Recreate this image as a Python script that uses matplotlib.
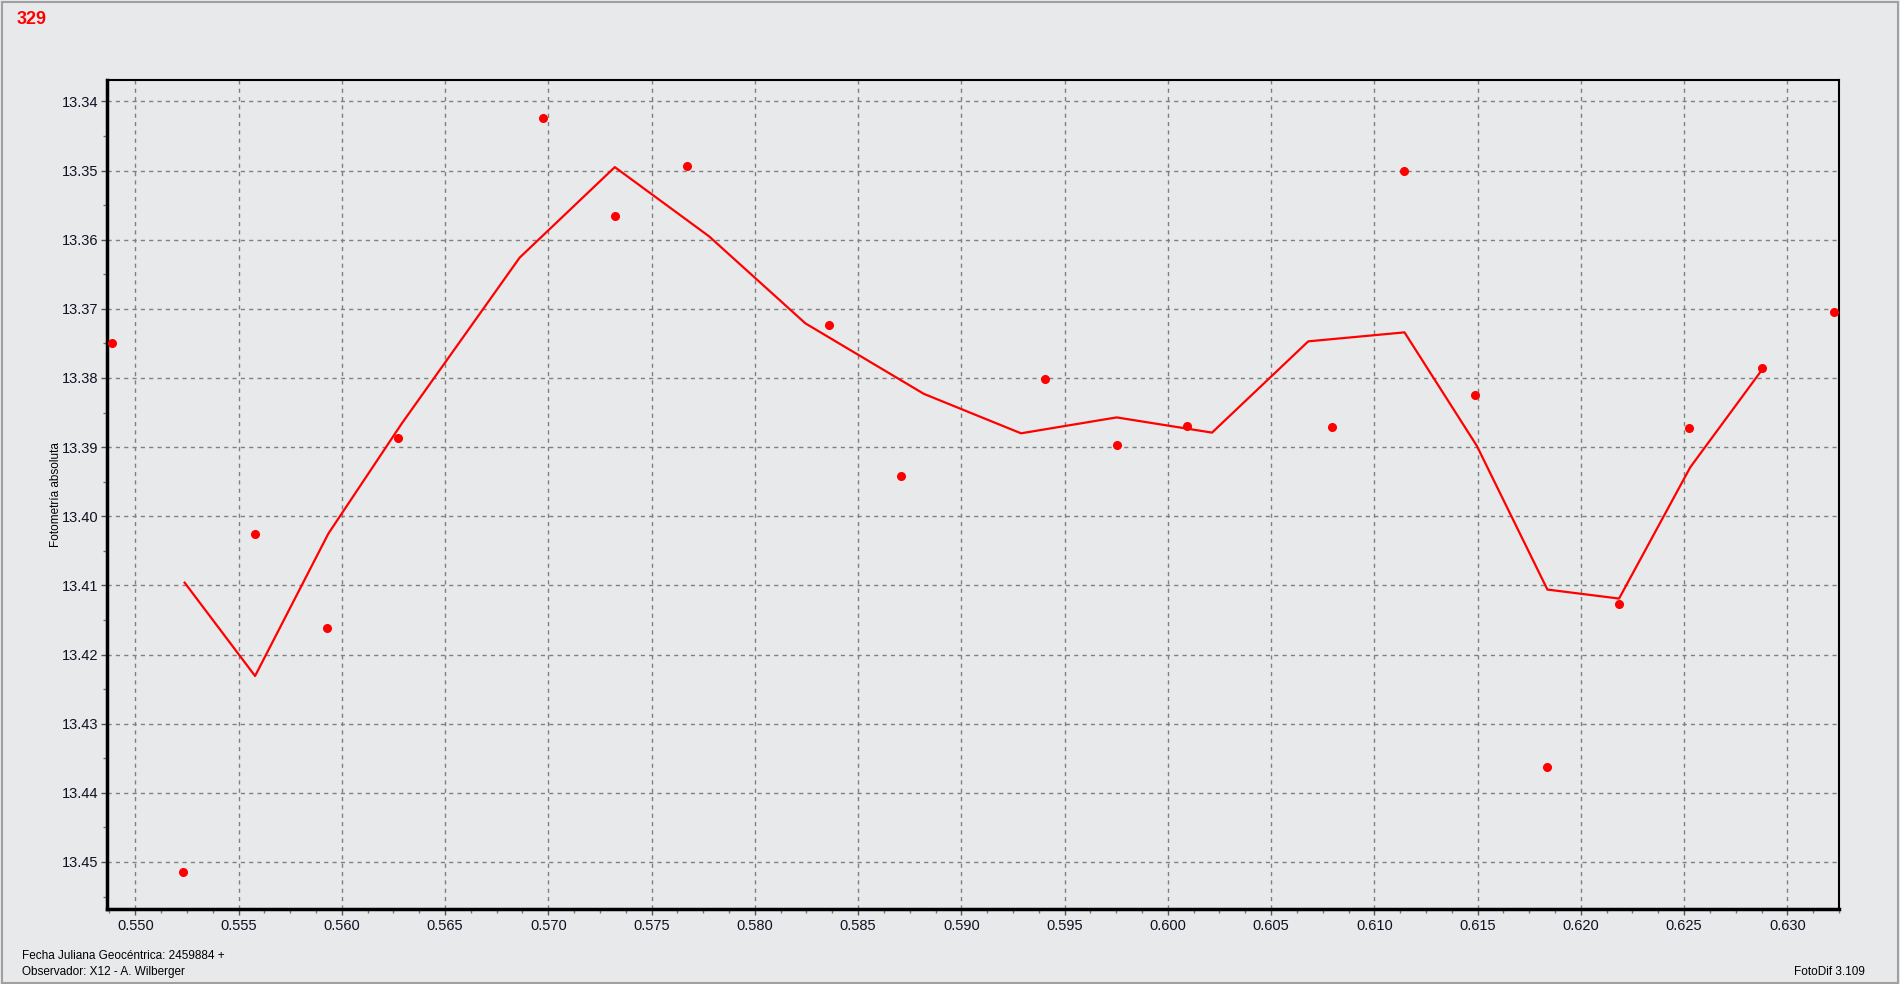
import matplotlib.pyplot as plt
from matplotlib.ticker import MultipleLocator, FormatStrFormatter
from matplotlib.patches import Rectangle

# puntos medidos
fecha = [0.54887, 0.55233, 0.55580, 0.55930, 0.56272, 0.56972, 0.57322,
         0.57670, 0.58360, 0.58710, 0.59404, 0.59752, 0.60093, 0.60794,
         0.61143, 0.61488, 0.61835, 0.62185, 0.62526, 0.62875, 0.63224]
mag = [13.3749, 13.4514, 13.4025, 13.4161, 13.3887, 13.3424, 13.3565,
       13.3494, 13.3723, 13.3942, 13.3802, 13.3897, 13.3869, 13.3871,
       13.3500, 13.3824, 13.4363, 13.4127, 13.3873, 13.3786, 13.3705]

# curva promedio
fecha_prom = [0.55239, 0.55580, 0.55935, 0.56290, 0.56861, 0.57322, 0.57778,
              0.58245, 0.58819, 0.59289, 0.59752, 0.60214, 0.60680, 0.61146,
              0.61496, 0.61838, 0.62185, 0.62530, 0.62875]
mag_prom = [13.4096, 13.4231, 13.4025, 13.3866, 13.3626, 13.3495, 13.3595,
            13.3721, 13.3823, 13.3880, 13.3857, 13.3879, 13.3747, 13.3734,
            13.3898, 13.4106, 13.4119, 13.3929, 13.3789]

fondo = '#e8e9eb'
plt.rcParams['font.family'] = ['Liberation Sans', 'DejaVu Sans']

fig = plt.figure(figsize=(19, 9.84), dpi=100, facecolor=fondo)
ax = fig.add_axes([107/1900, 1-909/984, (1839-107)/1900, (909-80)/984])
ax.set_facecolor(fondo)

ax.plot(fecha_prom, mag_prom, color='red', lw=1.6, zorder=3)
ax.plot(fecha, mag, 'o', color='red', ms=5.5, zorder=4)

ax.set_xlim(0.54863, 0.6325)
ax.set_ylim(13.4568, 13.3369)

ax.xaxis.set_major_locator(MultipleLocator(0.005))
ax.xaxis.set_minor_locator(MultipleLocator(0.00125))
ax.yaxis.set_major_locator(MultipleLocator(0.01))
ax.yaxis.set_minor_locator(MultipleLocator(0.005))
ax.xaxis.set_major_formatter(FormatStrFormatter('%.3f'))
ax.yaxis.set_major_formatter(FormatStrFormatter('%.2f'))
ax.tick_params(which='major', length=4, width=1, labelsize=10.5, colors='#555555', labelcolor='#111122')
ax.tick_params(axis='y', which='major', pad=2)
ax.tick_params(axis='x', which='major', pad=3)
ax.tick_params(which='minor', length=3, width=1, colors='#777777')

ax.grid(True, which='major', color='#808080', ls=(0, (3, 3)), lw=1)

for lado in ['left', 'bottom']:
    ax.spines[lado].set_linewidth(2.5)
for lado in ['top', 'right']:
    ax.spines[lado].set_linewidth(1.5)

ax.set_ylabel('Fotometría absoluta', fontsize=8.5, labelpad=0)

fig.text(17/1900, 1-19/984, '329', color='red', fontsize=13, fontweight='bold', va='center')
fig.text(22/1900, 1-956/984, 'Fecha Juliana Geocéntrica: 2459884 +', fontsize=8.5, va='center')
fig.text(22/1900, 1-972/984, 'Observador: X12 - A. Wilberger', fontsize=8.5, va='center')
fig.text(1865/1900, 1-972/984, 'FotoDif 3.109', fontsize=8.5, va='center', ha='right')

fig.patches.append(Rectangle((0.001, 0.001), 0.998, 0.997, transform=fig.transFigure,
                             fill=False, edgecolor='#a0a0a0', lw=1.5))

fig.savefig('out.png', dpi=100, facecolor=fondo)
